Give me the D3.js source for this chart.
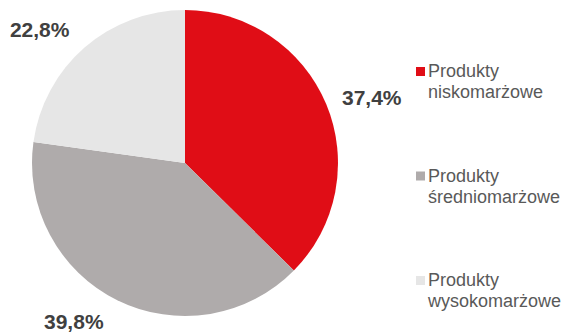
<!DOCTYPE html>
<html>
<head>
<meta charset="utf-8">
<script src="https://cdn.jsdelivr.net/npm/d3@7"></script>
<style>
  body { margin: 0; background: #fff; }
  svg { display: block; font-family: Arial, "Liberation Sans", sans-serif; }
</style>
</head>
<body>
<script>
"use strict";
(function(){
    // values
    const categories = ["Produkty niskomarżowe", "Produkty średniomarżowe", "Produkty wysokomarżowe"]
    const legendLines = [["Produkty", "niskomarżowe"], ["Produkty", "średniomarżowe"], ["Produkty", "wysokomarżowe"]]
    const shares = [37.4, 39.8, 22.8]
    const sliceColors = ["#E00D16", "#AFABAB", "#E6E6E6"]
    // small nudges of the percent labels from the centroid
    const labelNudge = [[5, 10], [-24, -18], [-16, 15]]

    const measurements = {
        width: 566,
        height: 333,
        cx: 185,
        cy: 163,
        radius: 153,
        labelRadius: 197
    }

    let svgContainer = d3.select('body').append('svg')
        .attr('width', measurements.width)
        .attr('height', measurements.height)

    let pie = d3.pie().sort(null).value(d => d)
    let arcs = pie(shares)

    let arc = d3.arc().innerRadius(0).outerRadius(measurements.radius)
    let labelArc = d3.arc().innerRadius(measurements.labelRadius).outerRadius(measurements.labelRadius)

    let g = svgContainer.append('g')
        .attr('transform', `translate(${measurements.cx},${measurements.cy})`)

    g.selectAll('path')
        .data(arcs)
        .enter()
        .append('path')
        .attr('d', arc)
        .attr('fill', (d, i) => sliceColors[i])

    g.selectAll('.pct')
        .data(arcs)
        .enter()
        .append('text')
        .attr('class', 'pct')
        .attr('x', (d, i) => labelArc.centroid(d)[0] + labelNudge[i][0])
        .attr('y', (d, i) => labelArc.centroid(d)[1] + labelNudge[i][1])
        .attr('text-anchor', 'middle')
        .attr('dominant-baseline', 'central')
        .attr('font-size', 21)
        .attr('font-weight', 'bold')
        .attr('fill', '#404040')
        .text(d => d.data.toFixed(1).replace('.', ',') + '%')

    // legend
    let legendY = d3.scalePoint()
        .domain(categories)
        .range([77, 286])

    let legend = svgContainer.selectAll('.legend')
        .data(categories)
        .enter()
        .append('g')
        .attr('class', 'legend')
        .attr('transform', d => `translate(416,${legendY(d)})`)

    legend.append('rect')
        .attr('x', 0)
        .attr('y', -10)
        .attr('width', 9)
        .attr('height', 9)
        .attr('fill', (d, i) => sliceColors[i])

    legend.append('text')
        .attr('x', 12)
        .attr('y', 0)
        .attr('font-size', 18)
        .attr('fill', '#595959')
        .selectAll('tspan')
        .data((d, i) => legendLines[i])
        .enter()
        .append('tspan')
        .attr('x', 12)
        .attr('dy', (d, j) => j === 0 ? 0 : 21)
        .text(d => d)
})()
</script>
</body>
</html>
